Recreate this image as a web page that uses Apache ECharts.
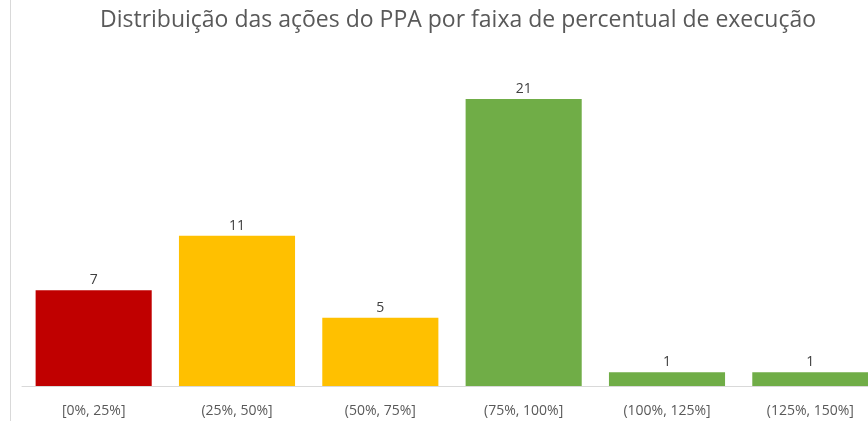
<!DOCTYPE html>
<html>
<head>
<meta charset="utf-8">
<script src="https://cdn.jsdelivr.net/npm/echarts@6/dist/echarts.min.js"></script>
<style>
  html, body { margin: 0; padding: 0; background: #fff; overflow: hidden; }
  /* chart is a bit wider than the window: last bar is cut at the right edge */
  #chart { width: 882px; height: 421px; }
</style>
</head>
<body>
<div id="chart"></div>
<script>
const categories = ['[0%, 25%]', '(25%, 50%]', '(50%, 75%]', '(75%, 100%]', '(100%, 125%]', '(125%, 150%]']
const counts = [7, 11, 5, 21, 1, 1]
const barColors = ['#C00000', '#FFC000', '#FFC000', '#70AD47', '#70AD47', '#70AD47']

const chart = echarts.init(document.getElementById('chart'))
chart.setOption({
  animation: false,
  title: {
    text: 'Distribuição das ações do PPA por faixa de percentual de execução',
    left: 453,
    textAlign: 'center',
    top: 4,
    textStyle: {
      fontFamily: 'Open Sans',
      fontWeight: 'normal',
      fontSize: 23,
      color: '#595959'
    }
  },
  graphic: [
    {
      type: 'line',
      shape: { x1: 10.5, y1: 0, x2: 10.5, y2: 421 },
      style: { stroke: '#d9d9d9', lineWidth: 1 }
    }
  ],
  grid: {
    left: 22,
    right: 0,
    top: 58,
    bottom: 35
  },
  xAxis: {
    type: 'category',
    data: categories,
    axisLine: { lineStyle: { color: '#d9d9d9' } },
    axisTick: { show: false },
    axisLabel: {
      interval: 0,
      margin: 18,
      fontFamily: 'Open Sans',
      fontSize: 14,
      color: '#595959'
    }
  },
  yAxis: {
    type: 'value',
    min: 0,
    max: 24,
    show: false,
    splitLine: { show: false }
  },
  series: [
    {
      type: 'bar',
      data: counts.map((v, i) => ({ value: v, itemStyle: { color: barColors[i] } })),
      barCategoryGap: '19%',
      label: {
        show: true,
        position: 'top',
        distance: 3,
        fontFamily: 'Open Sans',
        fontSize: 14,
        color: '#404040'
      }
    }
  ]
})
window.onresize = function () {
  chart.resize()
}
</script>
</body>
</html>
